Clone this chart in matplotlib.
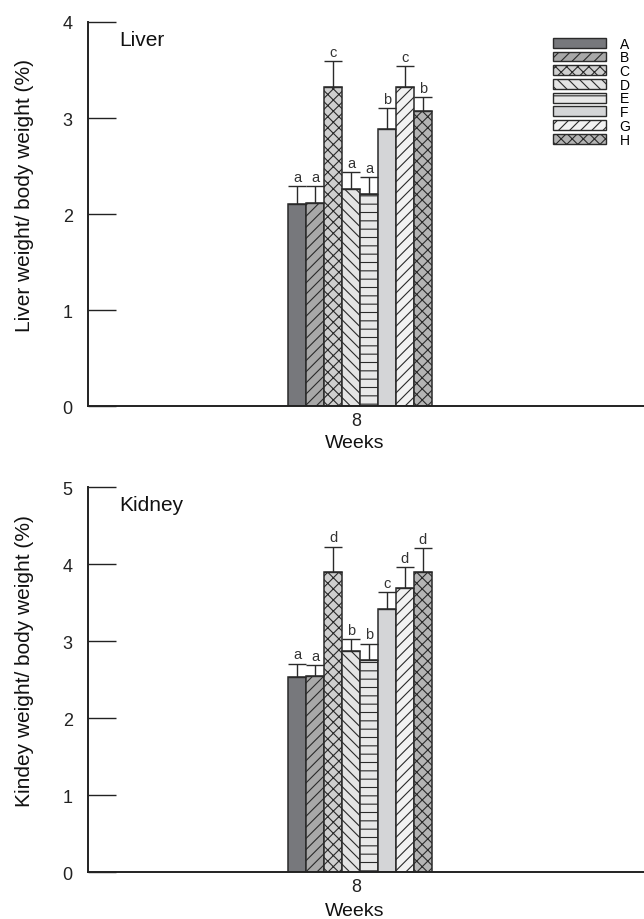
import matplotlib
matplotlib.use("Agg")
import matplotlib.pyplot as plt
import numpy as np
from matplotlib.patches import Patch

plt.rcParams['font.family'] = ['Liberation Sans', 'DejaVu Sans']
plt.rcParams['hatch.linewidth'] = 0.8

groups = ['A', 'B', 'C', 'D', 'E', 'F', 'G', 'H']
week_labels = ['8']

liver_vals = [2.11, 2.12, 3.32, 2.26, 2.21, 2.89, 3.32, 3.07]
liver_err = [0.18, 0.17, 0.27, 0.18, 0.18, 0.21, 0.22, 0.15]
liver_sig = ['a', 'a', 'c', 'a', 'a', 'b', 'c', 'b']

kidney_vals = [2.53, 2.55, 3.90, 2.87, 2.76, 3.42, 3.69, 3.90]
kidney_err = [0.18, 0.14, 0.33, 0.16, 0.21, 0.22, 0.27, 0.31]
kidney_sig = ['a', 'a', 'd', 'b', 'b', 'c', 'd', 'd']

facecolors = ['#77787c', '#a8a8a8', '#cfcfcf', '#e4e4e4', '#e8e8e8', '#d4d5d7', '#f2f2f2', '#b4b4b4']
hatches = [None, '///', 'xxx', '\\\\\\', '--', None, '///', 'xxx']
edge = '#2a2a2a'

fig = plt.figure(figsize=(6.44, 9.2), dpi=100)
ax1 = fig.add_axes([0.1366, 0.5573, 0.8634, 0.4177])
ax2 = fig.add_axes([0.1366, 0.0508, 0.8634, 0.4185])

def draw(ax, vals, errs, sigs, ymax, ylabel, title, xlab_y, legend=False):
    n = len(vals)
    x = np.arange(n) - (n - 1) / 2.0
    for i in range(n):
        ax.bar(x[i], vals[i], width=1.0, color=facecolors[i], edgecolor=edge,
               hatch=hatches[i], linewidth=1.1, zorder=2)
        ax.errorbar(x[i], vals[i], yerr=[[0], [errs[i]]], fmt='none',
                    ecolor=edge, elinewidth=1.0, capsize=6.3, capthick=1.0, zorder=3)
        ax.annotate(sigs[i], (x[i], vals[i] + errs[i]), xytext=(0, 1.5),
                    textcoords='offset points', ha='center', va='bottom',
                    fontsize=10.5, color='#333333')
    ax.set_xlim(-15.2, 15.86)
    ax.set_ylim(0, ymax)
    ax.set_yticks(range(0, ymax + 1))
    ax.set_xticks([-0.2])
    ax.set_xticklabels(week_labels, fontsize=13)
    ax.tick_params(axis='x', length=0, pad=4, colors='#222222')
    ax.tick_params(axis='y', direction='in', length=20, width=1.0, pad=11,
                   labelsize=13, colors='#222222')
    ax.set_xlabel('Weeks', fontsize=14, color='#111111')
    ax.xaxis.set_label_coords(0.48, xlab_y)
    ax.set_ylabel(ylabel, fontsize=15, color='#111111')
    ax.yaxis.set_label_coords(-0.097, 0.552)
    for s in ['top', 'right']:
        ax.spines[s].set_visible(False)
    for s in ['left', 'bottom']:
        ax.spines[s].set_linewidth(1.4)
        ax.spines[s].set_color('#222222')
    ax.text(0.056, 0.941, title, transform=ax.transAxes, fontsize=15,
            ha='left', va='baseline', color='#111111')
    if legend:
        handles = [Patch(facecolor=facecolors[i], edgecolor=edge, hatch=hatches[i],
                         linewidth=1.0, label=groups[i]) for i in range(len(groups))]
        ax.legend(handles=handles, loc='upper left', bbox_to_anchor=(0.836, 0.962),
                  frameon=False, fontsize=10, handlelength=3.8, handleheight=0.72,
                  labelspacing=-0.02, handletextpad=1.0, borderpad=0, borderaxespad=0)

draw(ax1, liver_vals, liver_err, liver_sig, 4, 'Liver weight/ body weight (%)', 'Liver', -0.073, legend=True)
draw(ax2, kidney_vals, kidney_err, kidney_sig, 5, 'Kindey weight/ body weight (%)', 'Kidney', -0.0765)

fig.savefig('out.png', dpi=100)
